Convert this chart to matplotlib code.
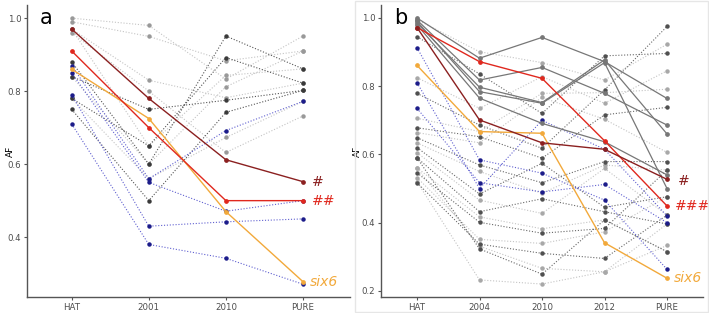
import matplotlib
matplotlib.use("Agg")
import matplotlib.pyplot as plt
from matplotlib.patches import Rectangle

# ---------------- Panel a data ----------------
cats_a = ["HAT", "2001", "2010", "PURE"]
a_darkred = [0.97, 0.78, 0.612, 0.552]
a_red = [0.91, 0.70, 0.50, 0.50]
a_orange = [0.86, 0.725, 0.47, 0.278]
a_blue = [
    [0.85, 0.55, 0.471, 0.50],
    [0.79, 0.43, 0.442, 0.45],
    [0.71, 0.38, 0.342, 0.271],
    [0.87, 0.56, 0.692, 0.772],
]
a_dark = [
    [0.88, 0.60, 0.951, 0.861],
    [0.75, 0.50, 0.742, 0.802],
    [0.78, 0.65, 0.892, 0.822],
    [0.84, 0.75, 0.775, 0.802],
]
a_light = [
    [1.00, 0.98, 0.833, 0.951],
    [0.99, 0.95, 0.883, 0.910],
    [0.97, 0.83, 0.782, 0.822],
    [0.96, 0.80, 0.632, 0.732],
    [0.78, 0.56, 0.673, 0.772],
    [0.97, 0.65, 0.843, 0.861],
    [0.84, 0.60, 0.812, 0.910],
]

# ---------------- Panel b data ----------------
cats_b = ["HAT", "2004", "2010", "2012", "PURE"]
b_darkred = [0.972, 0.701, 0.634, 0.615, 0.527]
b_red = [0.972, 0.872, 0.823, 0.640, 0.449]
b_orange = [0.861, 0.667, 0.662, 0.341, 0.237]
b_solid = [
    [1.000, 0.882, 0.943, 0.872, 0.764],
    [0.994, 0.818, 0.855, 0.779, 0.686],
    [0.985, 0.797, 0.752, 0.877, 0.660],
    [0.990, 0.784, 0.750, 0.869, 0.500],
    [0.980, 0.765, 0.691, 0.637, 0.540],
]
b_blue = [
    [0.913, 0.584, 0.545, 0.466, 0.263],
    [0.810, 0.500, 0.700, 0.615, 0.420],
    [0.735, 0.517, 0.490, 0.512, 0.400],
]
b_dark = [
    [0.945, 0.836, 0.720, 0.889, 0.896],
    [0.779, 0.686, 0.618, 0.789, 0.975],
    [0.678, 0.652, 0.589, 0.716, 0.738],
    [0.649, 0.569, 0.517, 0.579, 0.579],
    [0.620, 0.484, 0.574, 0.445, 0.476],
    [0.590, 0.432, 0.470, 0.432, 0.396],
    [0.546, 0.401, 0.369, 0.383, 0.554],
    [0.517, 0.337, 0.310, 0.295, 0.422],
    [0.590, 0.323, 0.249, 0.408, 0.315],
]
b_light = [
    [0.995, 0.901, 0.869, 0.818, 0.923],
    [0.825, 0.735, 0.828, 0.750, 0.845],
    [0.706, 0.667, 0.779, 0.781, 0.791],
    [0.664, 0.634, 0.767, 0.703, 0.606],
    [0.634, 0.550, 0.486, 0.569, 0.554],
    [0.605, 0.466, 0.427, 0.559, 0.422],
    [0.561, 0.417, 0.382, 0.408, 0.315],
    [0.532, 0.351, 0.339, 0.373, 0.476],
    [0.560, 0.331, 0.266, 0.256, 0.396],
    [0.520, 0.232, 0.220, 0.256, 0.333],
]

C_DARKRED = "#8b2020"
C_RED = "#e0281e"
C_ORANGE = "#f2a93b"
C_BLUE_LINE = "#6060d0"
C_BLUE_PT = "#1c1c8a"
C_DARK = "#3a3a3a"
C_LIGHT = "#c4c4c4"
C_SOLID = "#777777"
DOT = (0, (1, 1.6))

fig = plt.figure(figsize=(7.09, 3.13), dpi=100)


def style_axes(ax, cats, yticks, label_x):
    for s in ["top", "right"]:
        ax.spines[s].set_visible(False)
    for s in ["left", "bottom"]:
        ax.spines[s].set_color("#555555")
        ax.spines[s].set_linewidth(1.0)
    ax.set_xticks(range(len(cats)))
    ax.set_xticklabels(cats)
    ax.set_yticks(yticks)
    ax.set_yticklabels([f"{v:.1f}" for v in yticks])
    ax.tick_params(labelsize=6.2, colors="#555555", length=2.5, width=0.8, pad=1.5)
    for lab in ax.get_xticklabels() + ax.get_yticklabels():
        lab.set_color("#4d4d4d")
    ax.set_ylabel("AF", fontsize=6.5)
    ax.yaxis.set_label_coords(label_x, 0.5)


def draw_dotted(ax, series, lc, pc):
    for s in series:
        ax.plot(range(len(s)), s, linestyle=DOT, color=lc, linewidth=0.8,
                marker="o", markersize=2.2, markerfacecolor=pc,
                markeredgecolor=pc, zorder=2)


def draw_solid(ax, s, c, lw=1.0, z=4):
    ax.plot(range(len(s)), s, linestyle="-", color=c, linewidth=lw,
            marker="o", markersize=2.4, markerfacecolor=c, markeredgecolor=c,
            zorder=z)


# ---------- Panel a ----------
axa = fig.add_axes([27 / 709, 16 / 313, 323 / 709, 292 / 313])
draw_dotted(axa, a_light, C_LIGHT, "#999999")
draw_dotted(axa, a_dark, "#555555", C_DARK)
draw_dotted(axa, a_blue, C_BLUE_LINE, C_BLUE_PT)
draw_solid(axa, a_orange, C_ORANGE)
draw_solid(axa, a_red, C_RED)
draw_solid(axa, a_darkred, C_DARKRED)
axa.set_xlim(-0.58, 3.61)
axa.set_ylim(0.236, 1.036)
style_axes(axa, cats_a, [0.4, 0.6, 0.8, 1.0], -0.038)
axa.text(3.12, a_darkred[-1], "#", color=C_DARKRED, fontsize=10, va="center", ha="left")
axa.text(3.12, a_red[-1], "##", color=C_RED, fontsize=10, va="center", ha="left")
axa.text(3.09, a_orange[-1], "six6", color=C_ORANGE, fontsize=10, va="center",
         ha="left", style="italic")
axa.text(0.04, 0.955, "a", transform=axa.transAxes, fontsize=15, va="center", ha="left")

# ---------- Panel b ----------
fig.patches.append(Rectangle((355 / 709, 1 / 313), 353 / 709, 311 / 313,
                             transform=fig.transFigure, fill=False,
                             edgecolor="#e6e6e6", linewidth=1.0))
axb = fig.add_axes([381 / 709, 16 / 313, 322 / 709, 292 / 313])
draw_dotted(axb, b_light, C_LIGHT, "#a8a8a8")
draw_dotted(axb, b_dark, "#686868", "#505050")
draw_dotted(axb, b_blue, C_BLUE_LINE, C_BLUE_PT)
for s in b_solid:
    draw_solid(axb, s, C_SOLID, lw=0.9, z=3)
draw_solid(axb, b_orange, C_ORANGE)
draw_solid(axb, b_red, C_RED)
draw_solid(axb, b_darkred, C_DARKRED)
axb.set_xlim(-0.576, 4.576)
axb.set_ylim(0.182, 1.038)
style_axes(axb, cats_b, [0.2, 0.4, 0.6, 0.8, 1.0], -0.058)
axb.text(4.18, b_darkred[-1] - 0.005, "#", color=C_DARKRED, fontsize=10, va="center", ha="left")
axb.text(4.13, b_red[-1], "###", color=C_RED, fontsize=10, va="center", ha="left")
axb.text(4.11, b_orange[-1], "six6", color=C_ORANGE, fontsize=10, va="center",
         ha="left", style="italic")
axb.text(0.04, 0.955, "b", transform=axb.transAxes, fontsize=15, va="center", ha="left")

fig.savefig("out.png", dpi=100)
